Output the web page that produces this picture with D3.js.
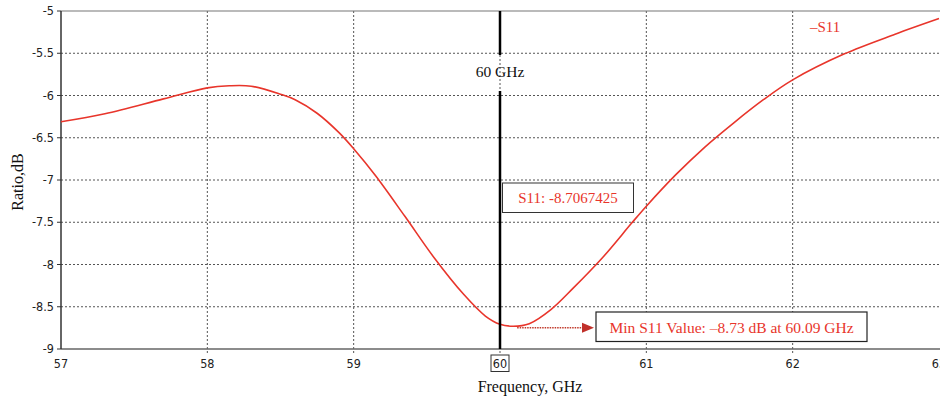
<!DOCTYPE html>
<html><head><meta charset="utf-8">
<script src="https://cdn.jsdelivr.net/npm/d3@7"></script>
<style>body{margin:0;background:#fff}svg{display:block}</style>
</head><body><svg id="c" width="940" height="397"></svg>
<script>
const freq = [57.0,57.3,57.7,58.0,58.15,58.3,58.5,58.6,58.75,58.9,59.0,59.15,59.35,59.55,59.75,59.9,60.0,60.09,60.2,60.35,60.5,60.7,60.9,61.0,61.2,61.4,61.6,61.8,62.0,62.35,62.7,63.0];
const s11 = [-6.31,-6.215,-6.04,-5.91,-5.885,-5.89,-5.985,-6.05,-6.21,-6.44,-6.63,-6.95,-7.43,-7.92,-8.35,-8.61,-8.707,-8.73,-8.70,-8.53,-8.28,-7.92,-7.51,-7.31,-6.94,-6.61,-6.32,-6.05,-5.815,-5.51,-5.275,-5.09];
const xTicks = [57,58,59,60,61,62,63];
const yTicks = [-5,-5.5,-6,-6.5,-7,-7.5,-8,-8.5,-9];
const yTickLabels = ["-5","-5.5","-6","-6.5","-7","-7.5","-8","-8.5","-9"];
const markerFreq = 60;
const markerLabel = "60 GHz";
const markerValueText = "S11: -8.7067425";
const minFreq = 60.09, minVal = -8.73;
const minText = "Min S11 Value: \u20138.73 dB at 60.09 GHz";
const legendText = "\u2013S11";

const svg = d3.select("#c");
const L = 61, R = 939, T = 11, B = 349;
const x = d3.scaleLinear().domain([57,63]).range([L,R]);
const y = d3.scaleLinear().domain([-9,-5]).range([B,T]);
const red = "#e8352b";
const serif = "'Liberation Serif','Times New Roman',serif";
const narrow = "'Liberation Sans Narrow','DejaVu Sans Condensed',Arial,sans-serif";

// grid
const g = svg.append("g");
g.selectAll("line.h").data(yTicks.filter(v => v > -9 && v < -5)).join("line")
  .attr("x1", L).attr("x2", 940).attr("y1", d => y(d)).attr("y2", d => y(d))
  .attr("stroke", "#555").attr("stroke-width", 1).attr("stroke-dasharray", "2,2");
g.selectAll("line.v").data(xTicks.filter(v => v > 57 && v < 63)).join("line")
  .attr("x1", d => x(d)).attr("x2", d => x(d)).attr("y1", T).attr("y2", B + 4)
  .attr("stroke", "#555").attr("stroke-width", 1).attr("stroke-dasharray", "2,2");

// frame
svg.append("line").attr("x1", L).attr("x2", 940).attr("y1", T).attr("y2", T).attr("stroke", "#777").attr("stroke-width", 1.2);
svg.append("line").attr("x1", L).attr("x2", 940).attr("y1", B).attr("y2", B).attr("stroke", "#666").attr("stroke-width", 1.5);
svg.append("line").attr("x1", L).attr("x2", L).attr("y1", T).attr("y2", B).attr("stroke", "#333").attr("stroke-width", 1.5);

// y ticks
const yt = svg.append("g");
yt.selectAll("line").data(yTicks).join("line")
  .attr("x1", L - 4).attr("x2", L).attr("y1", d => y(d)).attr("y2", d => y(d)).attr("stroke", "#333");
yt.selectAll("text").data(yTicks).join("text")
  .attr("x", 54).attr("y", d => y(d) + 4).attr("text-anchor", "end")
  .attr("font-family", narrow).attr("font-size", 12.5).attr("fill", "#222")
  .text((d, i) => yTickLabels[i]);

// x ticks
const xt = svg.append("g");
xt.selectAll("text").data(xTicks).join("text")
  .attr("x", d => x(d)).attr("y", 368).attr("text-anchor", "middle")
  .attr("font-family", narrow).attr("font-size", 12.5).attr("fill", "#222")
  .text(d => d);
svg.append("rect").attr("x", x(markerFreq) - 9).attr("y", 355).attr("width", 18).attr("height", 16.5)
  .attr("fill", "none").attr("stroke", "#333").attr("stroke-width", 1);

// axis titles
svg.append("text").attr("x", 530).attr("y", 392).attr("text-anchor", "middle")
  .attr("font-family", serif).attr("font-size", 16).attr("fill", "#111").text("Frequency, GHz");
svg.append("text").attr("transform", "translate(23,182) rotate(-90)").attr("text-anchor", "middle")
  .attr("font-family", serif).attr("font-size", 16).attr("fill", "#111").text("Ratio,dB");

// curve
const line = d3.line().x((d, i) => x(freq[i])).y(d => y(d)).curve(d3.curveCatmullRom.alpha(0.5));
svg.append("path").datum(s11).attr("d", line).attr("fill", "none").attr("stroke", red).attr("stroke-width", 1.6);

// marker line
const mx = x(markerFreq);
svg.append("line").attr("x1", mx).attr("x2", mx).attr("y1", T).attr("y2", 55).attr("stroke", "#000").attr("stroke-width", 2.5);
svg.append("line").attr("x1", mx).attr("x2", mx).attr("y1", 91).attr("y2", B).attr("stroke", "#000").attr("stroke-width", 2.5);
svg.append("text").attr("x", mx).attr("y", 77).attr("text-anchor", "middle")
  .attr("font-family", serif).attr("font-size", 15.5).attr("fill", "#111").text(markerLabel);

// marker value box
svg.append("rect").attr("x", 502.5).attr("y", 183).attr("width", 131).attr("height", 29.5)
  .attr("fill", "#fff").attr("stroke", "#333").attr("stroke-width", 1);
svg.append("text").attr("x", 568).attr("y", 203).attr("text-anchor", "middle")
  .attr("font-family", serif).attr("font-size", 15).attr("fill", red).text(markerValueText);

// min arrow
const ay = y(minVal) + 1.5;
svg.append("line").attr("x1", x(minFreq) + 4).attr("x2", 583).attr("y1", ay).attr("y2", ay)
  .attr("stroke", "#c0392b").attr("stroke-width", 1.5).attr("stroke-dasharray", "1.5,1");
svg.append("path").attr("d", `M582,${ay - 5}L594,${ay}L582,${ay + 5}Z`).attr("fill", "#c0302a");

// min box
svg.append("rect").attr("x", 596).attr("y", 312).attr("width", 271).attr("height", 29.5)
  .attr("fill", "#fff").attr("stroke", "#222").attr("stroke-width", 1.2);
svg.append("text").attr("x", 731.5).attr("y", 333).attr("text-anchor", "middle")
  .attr("font-family", serif).attr("font-size", 15.5).attr("fill", red).text(minText);

// legend
svg.append("text").attr("x", 810).attr("y", 32)
  .attr("font-family", serif).attr("font-size", 15).attr("fill", red).text(legendText);
</script></body></html>
